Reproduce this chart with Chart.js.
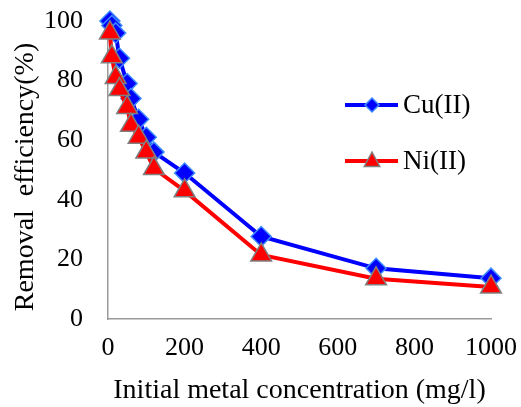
<!DOCTYPE html>
<html>
<head>
<meta charset="utf-8">
<script src="https://cdn.jsdelivr.net/npm/chart.js@4/dist/chart.umd.min.js"></script>
<style>
  html, body { margin: 0; padding: 0; background: #fff; }
  #wrap { width: 521px; height: 407px; position: relative; }
</style>
</head>
<body>
<div id="wrap"><canvas id="c" width="521" height="407"></canvas></div>
<script>
// ---- data ----
const concentrations = [5, 10, 20, 30, 50, 60, 80, 100, 120, 200, 400, 700, 1000];
const cuRemoval = [100, 98.5, 96, 87.5, 79, 74, 67, 61, 56, 49, 27.7, 17, 13.7];
const niRemoval = [96, 88, 81, 77, 71, 65, 61, 56, 50.5, 43, 21.5, 13.5, 10.7];
const seriesNames = ['Cu(II)', 'Ni(II)'];
const xTicks = [0, 200, 400, 600, 800, 1000];
const yTicks = [0, 20, 40, 60, 80, 100];
const xTitle = 'Initial metal concentration (mg/l)';
const yTitle = 'Removal  efficiency(%)  ';

const FONT = '"Liberation Serif", "Times New Roman", serif';
const toXY = ys => concentrations.map((c, i) => ({ x: c, y: ys[i] }));

const legendPlugin = {
  id: 'customLegend',
  afterDraw(chart) {
    const ctx = chart.ctx;
    const items = [
      { name: seriesNames[0], color: '#0000FF', y: 105, marker: 'diamond' },
      { name: seriesNames[1], color: '#FF0000', y: 161, marker: 'triangle' }
    ];
    ctx.save();
    items.forEach(it => {
      ctx.strokeStyle = it.color;
      ctx.lineWidth = 4;
      ctx.beginPath();
      ctx.moveTo(345, it.y);
      ctx.lineTo(398, it.y);
      ctx.stroke();
      const cx = 372, cy = it.y;
      ctx.beginPath();
      if (it.marker === 'diamond') {
        const r = 7;
        ctx.moveTo(cx, cy - r); ctx.lineTo(cx + r, cy); ctx.lineTo(cx, cy + r); ctx.lineTo(cx - r, cy); ctx.closePath();
        ctx.fillStyle = '#0000FF'; ctx.fill();
        ctx.strokeStyle = '#3D8BFF'; ctx.lineWidth = 1.5; ctx.stroke();
      } else {
        const r = 9;
        ctx.moveTo(cx, cy - r); ctx.lineTo(cx + r * 0.866, cy + r * 0.5 + 1); ctx.lineTo(cx - r * 0.866, cy + r * 0.5 + 1); ctx.closePath();
        ctx.fillStyle = '#FF0000'; ctx.fill();
        ctx.strokeStyle = '#808080'; ctx.lineWidth = 1.5; ctx.stroke();
      }
      ctx.fillStyle = '#000';
      ctx.font = '27px ' + FONT;
      ctx.textBaseline = 'middle';
      ctx.textAlign = 'left';
      ctx.fillText(it.name, 403, cy + 1);
    });
    ctx.restore();
  }
};

new Chart(document.getElementById('c'), {
  type: 'line',
  data: {
    datasets: [
      {
        label: seriesNames[0],
        data: toXY(cuRemoval),
        borderColor: '#0000FF',
        borderWidth: 4,
        backgroundColor: '#0000FF',
        pointStyle: 'rectRot',
        pointRadius: 10,
        pointBackgroundColor: '#0000FF',
        pointBorderColor: '#3D8BFF',
        pointBorderWidth: 1.5,
        tension: 0,
        clip: false,
        order: 2
      },
      {
        label: seriesNames[1],
        data: toXY(niRemoval),
        borderColor: '#FF0000',
        borderWidth: 4,
        backgroundColor: '#FF0000',
        pointStyle: 'triangle',
        pointRadius: 12,
        pointBackgroundColor: '#FF0000',
        pointBorderColor: '#808080',
        pointBorderWidth: 1.5,
        tension: 0,
        clip: false,
        order: 1
      }
    ]
  },
  options: {
    responsive: false,
    animation: false,
    layout: { padding: { left: 0, right: 30, top: 21, bottom: 0 } },
    plugins: { legend: { display: false }, tooltip: { enabled: false } },
    scales: {
      x: {
        type: 'linear',
        min: 0, max: 1000,
        afterBuildTicks: s => { s.ticks = xTicks.map(v => ({ value: v })); },
        afterFit: s => { s.height = 88; s.paddingLeft = 0; s.paddingRight = 0; s.paddingTop = 0; s.paddingBottom = 0; },
        grid: { display: false, drawOnChartArea: false, drawTicks: true, tickLength: 6, tickColor: '#9A9A9A', tickWidth: 1.5 },
        border: { display: true, color: '#9A9A9A', width: 1.5 },
        ticks: { color: '#000', font: { family: FONT, size: 26 }, padding: 8, maxRotation: 0, callback: v => String(v) },
        title: { display: true, text: xTitle, color: '#000', font: { family: FONT, size: 28, lineHeight: 1.1 }, padding: { top: 0, bottom: 1 } }
      },
      y: {
        type: 'linear',
        min: 0, max: 100,
        afterBuildTicks: s => { s.ticks = yTicks.map(v => ({ value: v })); },
        afterFit: s => { s.width = 108; s.paddingLeft = 0; s.paddingRight = 0; s.paddingTop = 0; s.paddingBottom = 0; },
        grid: { display: false, drawOnChartArea: false, drawTicks: true, tickLength: 6, tickColor: '#9A9A9A', tickWidth: 1.5 },
        border: { display: true, color: '#9A9A9A', width: 1.5 },
        ticks: { color: '#000', font: { family: FONT, size: 26 }, padding: 19, callback: v => String(v) },
        title: { display: true, text: yTitle, color: '#000', font: { family: FONT, size: 28 }, padding: { top: 9, bottom: 0 } }
      }
    }
  },
  plugins: [legendPlugin]
});
</script>
</body>
</html>
